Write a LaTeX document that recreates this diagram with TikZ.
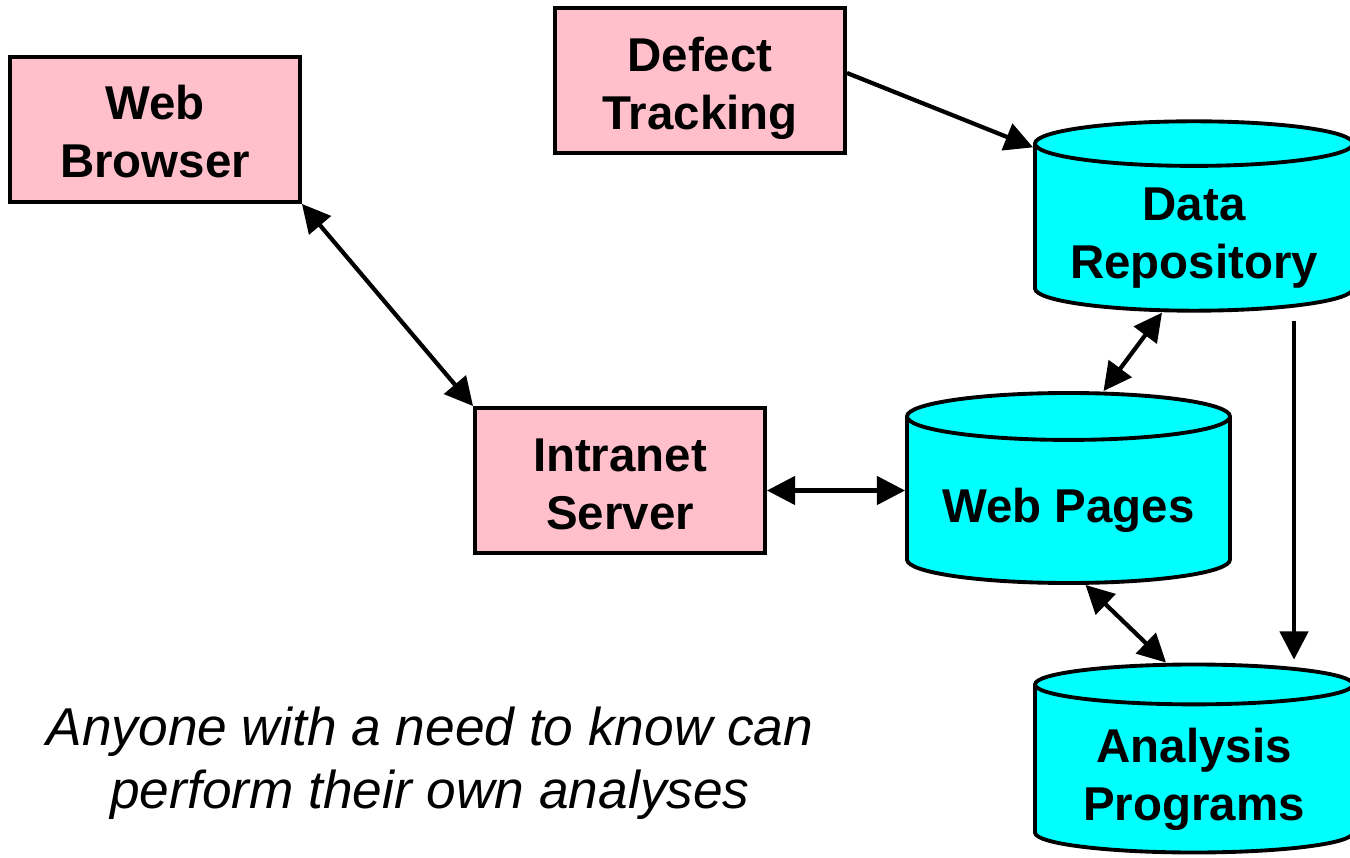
\documentclass[tikz,border=0pt]{standalone}
\usepackage{fontspec}
\setmainfont{Liberation Sans}
\usetikzlibrary{arrows.meta,shapes.geometric,calc}
\definecolor{boxpink}{RGB}{255,192,203}
\definecolor{storecyan}{RGB}{0,255,255}
\newcommand{\topgap}[1]{\rule{0pt}{#1}}

\begin{document}
\begin{tikzpicture}
	[font=\bfseries\fontsize{27}{33}\selectfont, inner sep=0pt,
	box/.style	= {rectangle, draw, fill=boxpink, line width=2.2pt, minimum width=5.8cm, minimum height=2.9cm, align=center},
	store/.style	= {cylinder, shape border rotate=90, draw, fill=storecyan, line width=2.2pt, minimum width=6.36cm, minimum height=3.76cm, aspect=0.18, align=center, anchor=shape center},
	paths/.style	= {-{Triangle[length=16pt,width=16pt]}, line width=2.4pt},
	both/.style	= {{Triangle[length=16pt,width=16pt]}-{Triangle[length=16pt,width=16pt]}, line width=2.4pt}]
	
	\useasboundingbox (0, 0) rectangle (27, 17.14);
	
	\node at (3.1, 14.55)		[box]	(wb)	{\topgap{22pt}Web\\Browser};
	\node at (14.0, 15.53)		[box]	(dt)	{\topgap{28pt}Defect\\Tracking};
	\node at (12.4, 7.53)		[box]	(is)	{\topgap{23pt}Intranet\\Server};
	
	\node at (23.88, 12.82)	[store]	(dr)	{\topgap{30pt}Data\\Repository};
	\node at (21.37, 7.38)		[store, minimum width=6.46cm, minimum height=3.8cm, aspect=0.186]	(wp)	{\topgap{30pt}Web Pages};
	\node at (23.88, 1.97)		[store]	(ap)	{\topgap{31pt}Analysis\\Programs};
	
	\node at (8.6, 1.88) [font=\mdseries\itshape\fontsize{30.3}{36}\selectfont, align=center] (note) {Anyone with a need to know can\\perform their own analyses};
	
	\draw [paths] ([yshift=0.15cm]dt.east) -- ($(dr.west |- dr.north)+(0,-0.56)$);
	\draw [both] (wb.south east) -- (is.north west);
	\draw [both] ([yshift=-0.2cm]is.east) -- ($(is.east -| wp.west)+(0,-0.2)$);
	\draw [both] ($(dr.south)+(-0.64,0)$) -- ($(wp.north)+(0.7,0)$);
	\draw [both] ($(wp.south)+(0.34,0)$) -- ($(ap.north)+(-0.56,0)$);
	\draw [paths, shorten <=0.16cm, shorten >=0.06cm] ($(dr.south)+(2,0)$) -- ($(ap.north)+(2,0)$);
	
\end{tikzpicture}
\end{document}
